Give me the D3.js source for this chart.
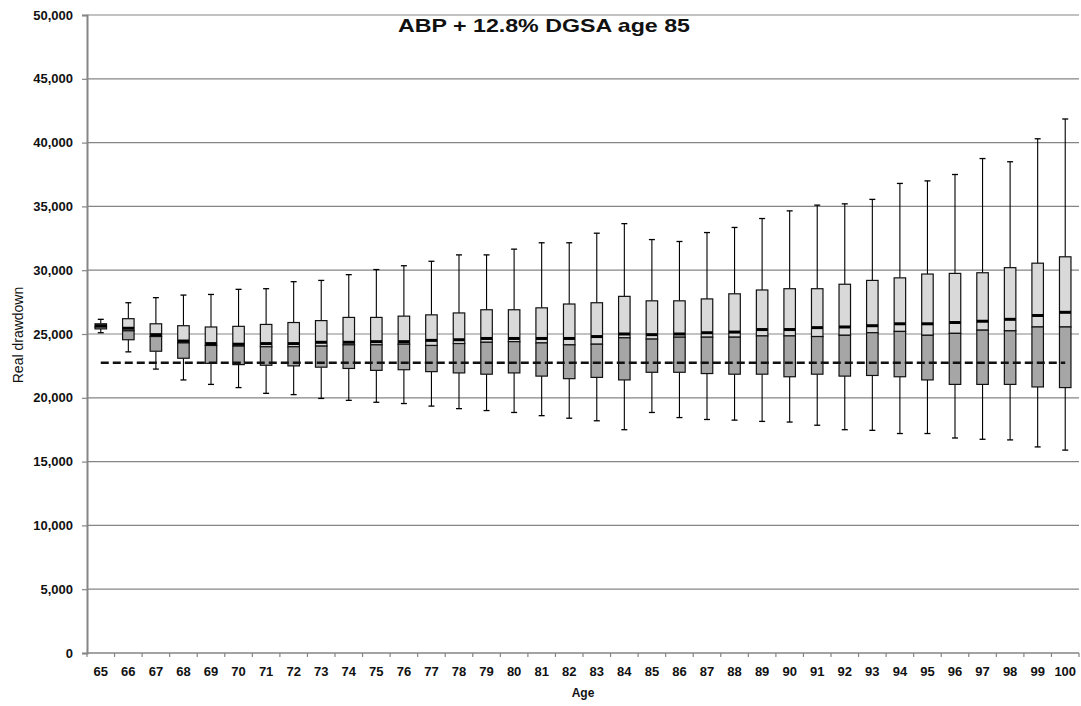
<!DOCTYPE html>
<html>
<head>
<meta charset="utf-8">
<script src="https://cdnjs.cloudflare.com/ajax/libs/d3/7.8.5/d3.min.js"></script>
<style>
  body { margin: 0; background: #fff; }
  svg { display: block; font-family: "Liberation Sans", Arial, sans-serif; }
</style>
</head>
<body>
<div id="chart"></div>
<script>
var ages = [65, 66, 67, 68, 69, 70, 71, 72, 73, 74, 75, 76, 77, 78, 79, 80, 81, 82,
            83, 84, 85, 86, 87, 88, 89, 90, 91, 92, 93, 94, 95, 96, 97, 98, 99, 100];

// values in thousands
var whiskerLow  = [25.10, 23.60, 22.25, 21.40, 21.05, 20.80, 20.35, 20.25, 19.95, 19.80, 19.65, 19.55,
                   19.35, 19.15, 19.00, 18.85, 18.60, 18.40, 18.20, 17.50, 18.85, 18.45, 18.30, 18.25,
                   18.15, 18.10, 17.85, 17.50, 17.45, 17.20, 17.20, 16.85, 16.75, 16.70, 16.15, 15.90];
var boxLow      = [25.40, 24.55, 23.65, 23.10, 22.70, 22.60, 22.55, 22.50, 22.40, 22.30, 22.15, 22.20,
                   22.05, 21.95, 21.85, 21.95, 21.70, 21.50, 21.60, 21.40, 22.00, 22.00, 21.90, 21.85,
                   21.85, 21.65, 21.85, 21.70, 21.75, 21.65, 21.40, 21.05, 21.05, 21.05, 20.85, 20.80];
var median      = [25.55, 25.25, 24.80, 24.30, 24.10, 24.05, 24.00, 24.00, 24.05, 24.15, 24.15, 24.20,
                   24.10, 24.25, 24.35, 24.40, 24.30, 24.15, 24.20, 24.70, 24.60, 24.75, 24.75, 24.75,
                   24.85, 24.85, 24.80, 24.90, 25.10, 25.20, 24.90, 25.05, 25.30, 25.25, 25.55, 25.55];
var mean        = [25.65, 25.45, 24.95, 24.45, 24.25, 24.20, 24.25, 24.25, 24.35, 24.35, 24.40, 24.40,
                   24.50, 24.55, 24.65, 24.65, 24.65, 24.65, 24.80, 25.00, 24.95, 25.00, 25.10, 25.15,
                   25.35, 25.35, 25.50, 25.55, 25.65, 25.80, 25.80, 25.90, 26.00, 26.15, 26.45, 26.70];
var boxHigh     = [25.80, 26.20, 25.80, 25.65, 25.55, 25.60, 25.75, 25.90, 26.05, 26.30, 26.30, 26.40,
                   26.50, 26.65, 26.90, 26.90, 27.05, 27.35, 27.45, 27.95, 27.60, 27.60, 27.75, 28.15,
                   28.45, 28.55, 28.55, 28.90, 29.20, 29.40, 29.70, 29.75, 29.80, 30.20, 30.55, 31.05];
var whiskerHigh = [26.15, 27.45, 27.85, 28.05, 28.10, 28.50, 28.55, 29.10, 29.20, 29.65, 30.05, 30.35,
                   30.70, 31.20, 31.20, 31.65, 32.15, 32.15, 32.90, 33.65, 32.40, 32.25, 32.95, 33.35,
                   34.05, 34.65, 35.10, 35.20, 35.55, 36.80, 37.00, 37.50, 38.75, 38.50, 40.30, 41.85];

var targetLevel = 22750;
var yTicks = [0, 5000, 10000, 15000, 20000, 25000, 30000, 35000, 40000, 45000, 50000];

var margin = {top: 15, right: 2, bottom: 53, left: 87};
var width = 1081 - margin.left - margin.right;
var height = 706 - margin.top - margin.bottom;
var gridColor = "#858585";

function createSvg(locator) {
  return d3.select(locator)
          .append("svg")
            .attr("width", width + margin.left + margin.right)
            .attr("height", height + margin.top + margin.bottom);
}

function buildData() {
  return ages.map(function(a, i) {
    return {age: a,
            lo: whiskerLow[i] * 1000, q1: boxLow[i] * 1000, med: median[i] * 1000,
            mean: mean[i] * 1000, q3: boxHigh[i] * 1000, hi: whiskerHigh[i] * 1000};
  });
}

function createBoxPlot(data, locator) {
  var root = createSvg(locator);
  var svg = root.append("g")
      .attr("transform", "translate(" + margin.left + "," + margin.top + ")");

  var xScale = d3.scaleBand().domain(ages).range([0, width]).padding(0);
  var yScale = d3.scaleLinear().domain([0, 50000]).range([height, 0]);
  var boxW = 11.5;
  var capW = 6;
  var cx = function(d) { return xScale(d.age) + xScale.bandwidth() / 2; };

  // gridlines
  svg.selectAll(".grid")
     .data(yTicks.filter(function(t) { return t > 0; }))
     .enter().append("line")
     .attr("x1", 0).attr("x2", width)
     .attr("y1", function(d) { return yScale(d); })
     .attr("y2", function(d) { return yScale(d); })
     .attr("stroke", gridColor).attr("stroke-width", 1.2);

  // y axis
  var yAxis = svg.append("g")
     .call(d3.axisLeft(yScale).tickValues(yTicks).tickSize(5).tickPadding(9)
             .tickFormat(d3.format(",")));
  yAxis.selectAll("line").attr("stroke", gridColor).attr("stroke-width", 1.2);
  yAxis.select(".domain").attr("stroke", gridColor).attr("stroke-width", 2);
  yAxis.selectAll("text")
       .attr("font-size", "13px").attr("font-weight", "bold").attr("fill", "#111")
       .attr("font-family", "'Liberation Sans', Arial, sans-serif");

  // x axis
  var xAxis = svg.append("g")
     .attr("transform", "translate(0," + height + ")")
     .call(d3.axisBottom(xScale).tickSize(0).tickPadding(14));
  xAxis.select(".domain").remove();
  xAxis.selectAll("text")
       .attr("font-size", "13px").attr("font-weight", "bold").attr("fill", "#111")
       .attr("font-family", "'Liberation Sans', Arial, sans-serif");

  svg.append("line")
     .attr("x1", 0).attr("x2", width)
     .attr("y1", height).attr("y2", height)
     .attr("stroke", gridColor).attr("stroke-width", 1.5);

  var bounds = ages.map(function(a) { return xScale(a); }).concat([width]);
  svg.selectAll(".xtick")
     .data(bounds)
     .enter().append("line")
     .attr("x1", function(d) { return d; }).attr("x2", function(d) { return d; })
     .attr("y1", height).attr("y2", height + 4)
     .attr("stroke", gridColor).attr("stroke-width", 1.2);

  var boxes = svg.selectAll(".box")
     .data(data)
     .enter().append("g")
     .attr("class", "box");

  // whiskers
  boxes.append("line")
     .attr("x1", cx).attr("x2", cx)
     .attr("y1", function(d) { return yScale(d.hi); })
     .attr("y2", function(d) { return yScale(d.q3); })
     .attr("stroke", "#000").attr("stroke-width", 1.1);
  boxes.append("line")
     .attr("x1", cx).attr("x2", cx)
     .attr("y1", function(d) { return yScale(d.q1); })
     .attr("y2", function(d) { return yScale(d.lo); })
     .attr("stroke", "#000").attr("stroke-width", 1.1);
  ["hi", "lo"].forEach(function(k) {
    boxes.append("line")
       .attr("x1", function(d) { return cx(d) - capW / 2; })
       .attr("x2", function(d) { return cx(d) + capW / 2; })
       .attr("y1", function(d) { return yScale(d[k]); })
       .attr("y2", function(d) { return yScale(d[k]); })
       .attr("stroke", "#000").attr("stroke-width", 1.3);
  });

  // upper (light) and lower (dark) parts
  boxes.append("rect")
     .attr("x", function(d) { return cx(d) - boxW / 2; })
     .attr("width", boxW)
     .attr("y", function(d) { return yScale(d.q3); })
     .attr("height", function(d) { return yScale(d.med) - yScale(d.q3); })
     .attr("fill", "#d9d9d9").attr("stroke", "#111").attr("stroke-width", 1.2);
  boxes.append("rect")
     .attr("x", function(d) { return cx(d) - boxW / 2; })
     .attr("width", boxW)
     .attr("y", function(d) { return yScale(d.med); })
     .attr("height", function(d) { return yScale(d.q1) - yScale(d.med); })
     .attr("fill", "#a6a6a6").attr("stroke", "#111").attr("stroke-width", 1.2);

  // mean (thick)
  boxes.append("line")
     .attr("x1", function(d) { return cx(d) - boxW / 2; })
     .attr("x2", function(d) { return cx(d) + boxW / 2; })
     .attr("y1", function(d) { return yScale(d.mean); })
     .attr("y2", function(d) { return yScale(d.mean); })
     .attr("stroke", "#000").attr("stroke-width", 3);

  // dashed target line
  svg.append("line")
     .attr("x1", cx(data[0])).attr("x2", cx(data[data.length - 1]))
     .attr("y1", yScale(targetLevel)).attr("y2", yScale(targetLevel))
     .attr("stroke", "#111").attr("stroke-width", 2.5)
     .attr("stroke-dasharray", "8,4");

  // titles
  root.append("text")
     .attr("x", 544).attr("y", 32)
     .attr("text-anchor", "middle")
     .attr("font-size", "19px").attr("font-weight", "bold").attr("fill", "#111")
     .attr("textLength", 292).attr("lengthAdjust", "spacingAndGlyphs")
     .text("ABP + 12.8% DGSA age 85");

  root.append("text")
     .attr("x", margin.left + width / 2).attr("y", 697)
     .attr("text-anchor", "middle")
     .attr("font-size", "12px").attr("font-weight", "bold").attr("fill", "#111")
     .text("Age");

  root.append("text")
     .attr("transform", "translate(23,335) rotate(-90)")
     .attr("text-anchor", "middle")
     .attr("font-family", "'Liberation Sans Narrow', 'Arial Narrow', 'Liberation Sans', sans-serif")
     .attr("font-size", "14px").attr("fill", "#111")
     .text("Real drawdown");
}

createBoxPlot(buildData(), "#chart");
</script>
</body>
</html>
